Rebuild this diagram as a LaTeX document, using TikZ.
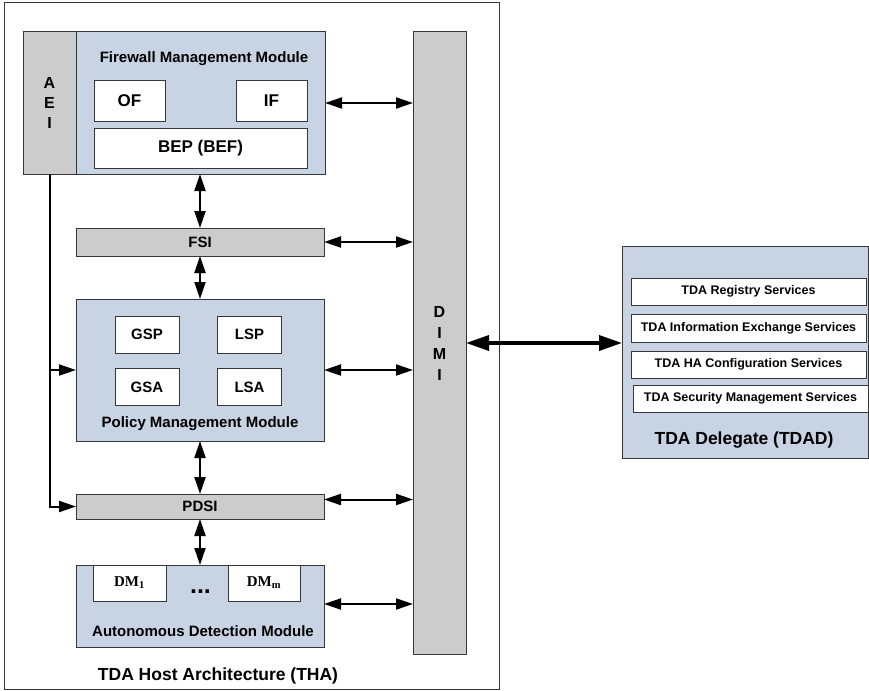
\documentclass[tikz,border=0pt]{standalone}
\usepackage{fontspec}
\setmainfont{Liberation Sans}
\newfontfamily\dmfont{Liberation Serif}
\usetikzlibrary{arrows.meta}
\definecolor{modblue}{RGB}{200,211,227}
\definecolor{bargray}{RGB}{204,204,204}
\definecolor{edge}{RGB}{55,55,55}

\begin{document}
\begin{tikzpicture}[x=1pt,y=-1pt,
  box/.style={draw=edge,line width=1pt,inner sep=0pt,outer sep=0pt},
  module/.style={box,fill=modblue},
  bar/.style={box,fill=bargray,font=\fontsize{15}{18}\selectfont\bfseries},
  partbox/.style={box,fill=white,font=\fontsize{15}{18}\selectfont\bfseries},
  modtitle/.style={font=\fontsize{15}{18}\selectfont\bfseries},
  bigtitle/.style={font=\fontsize{17.5}{21}\selectfont\bfseries},
  svc/.style={box,fill=white,minimum width=235pt,minimum height=27pt,font=\fontsize{12.5}{15}\selectfont\bfseries},
  link/.style={line width=2pt,{Triangle[length=17pt,width=11pt]}-{Triangle[length=17pt,width=11pt]}},
  feed/.style={line width=2pt,-{Triangle[length=17pt,width=11pt]}}]
\useasboundingbox (0,0) rectangle (869,690);

% host frame
\draw[edge,line width=1pt] (4,3) rectangle (499,689);
\node[bigtitle] (thatitle) at (218,676) {TDA Host Architecture (THA)};

% firewall management module
\node[bar,minimum width=53pt,minimum height=142pt,align=center,font=\fontsize{16}{20}\selectfont\bfseries] (aei) at (49.5,103) {A\\E\\I};
\node[module,minimum width=249pt,minimum height=142pt] (fwm) at (200.5,103) {};
\node[modtitle] (fwmtitle) at (204,59) {Firewall Management Module};
\node[partbox,font=\fontsize{17}{20}\selectfont\bfseries,minimum width=71pt,minimum height=40pt] (of) at (129.5,101) {OF};
\node[partbox,font=\fontsize{17}{20}\selectfont\bfseries,minimum width=71pt,minimum height=40pt] (inf) at (271.5,101) {IF};
\node[partbox,font=\fontsize{17}{20}\selectfont\bfseries,minimum width=213pt,minimum height=40pt] (bep) at (200.5,148) {BEP (BEF)};

% interfaces and policy module
\node[bar,minimum width=248pt,minimum height=28pt] (fsi) at (200,242) {FSI};
\node[module,minimum width=248pt,minimum height=142pt] (pmm) at (200,370) {};
\foreach \nm/\xx/\yy in {GSP/147/334.5,LSP/249.5/334.5,GSA/147/387,LSA/249.5/387}
  \node[partbox,minimum width=64pt,minimum height=37pt] (\nm) at (\xx,\yy) {\nm};
\node[modtitle] (pmmtitle) at (200,424) {Policy Management Module};
\node[bar,minimum width=248pt,minimum height=25pt] (pdsi) at (200,506.5) {PDSI};

% detection module
\node[module,minimum width=248pt,minimum height=82pt] (adm) at (200,606) {};
\node[partbox,font=\dmfont\fontsize{15}{18}\selectfont\bfseries,minimum width=73pt,minimum height=36pt] (dm1) at (129.5,583) {DM\textsubscript{1}};
\node[partbox,font=\dmfont\fontsize{15}{18}\selectfont\bfseries,minimum width=72pt,minimum height=36pt] (dmm) at (264,583) {DM\textsubscript{m}};
\node[font=\fontsize{25}{25}\selectfont\bfseries,anchor=base] (dots) at (200.5,593) {...};
\node[modtitle] (admtitle) at (203,631) {Autonomous Detection Module};

% DIMI
\node[bar,minimum width=53pt,minimum height=622pt,align=center,font=\fontsize{16}{21}\selectfont\bfseries] (dimi) at (439.5,343) {D\\I\\M\\I};

% TDA delegate
\node[module,minimum width=246pt,minimum height=212pt] (tdad) at (745,352) {};
\node[svc] (reg) at (748.5,291.5) {TDA Registry Services};
\node[svc,minimum height=28pt] (iex) at (748.5,328) {TDA Information Exchange Services};
\node[svc] (hac) at (748.5,364.5) {TDA HA Configuration Services};
\node[svc] (sec) at (750.5,398.5) {TDA Security Management Services};
\node[bigtitle] (tdadtitle) at (744,440) {TDA Delegate (TDAD)};

% connectors to DIMI
\draw[link] (fwm.east) -- (fwm.east -| dimi.west);
\draw[link] (fsi.east) -- (fsi.east -| dimi.west);
\draw[link] (pmm.east) -- (pmm.east -| dimi.west);
\draw[link] ([yshift=7pt]pdsi.east) -- ([yshift=7pt]pdsi.east -| dimi.west);
\draw[link] ([yshift=2pt]adm.east) -- ([yshift=2pt]adm.east -| dimi.west);
% vertical chain
\draw[link] (fsi.north |- fwm.south) -- (fsi.north);
\draw[link] (fsi.south) -- (pmm.north);
\draw[link] (pmm.south) -- (pdsi.north);
\draw[link] (pdsi.south) -- (adm.north);
% AEI feed
\draw[feed] (aei.south) |- (pdsi.west);
\draw[feed] (aei.south |- pmm.west) -- (pmm.west);
% DIMI to delegate
\draw[line width=3.5pt,{Triangle[length=23pt,width=15pt]}-{Triangle[length=23pt,width=15pt]}] (dimi.east) -- (dimi.east -| tdad.west);
\end{tikzpicture}
\end{document}
